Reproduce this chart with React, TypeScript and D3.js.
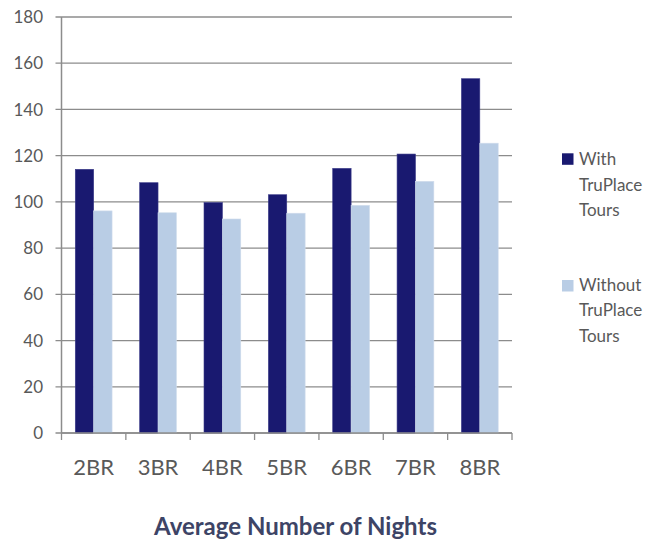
import React from "react";
import * as d3 from "d3";

const categories = ["2BR", "3BR", "4BR", "5BR", "6BR", "7BR", "8BR"];
const withTours = [114.1, 108.3, 99.7, 103.1, 114.5, 120.7, 153.3];
const withoutTours = [96.1, 95.3, 92.6, 95.1, 98.5, 108.9, 125.4];
const yTicks = [0, 20, 40, 60, 80, 100, 120, 140, 160, 180];
const seriesNames = [["With", "TruPlace", "Tours"], ["Without", "TruPlace", "Tours"]];
const seriesColors = ["#191970", "#b9cde5"];
const title = "Average Number of Nights";

const W = 657, H = 541;
const left = 61.5, right = 512, top = 17, bottom = 433;
const font = "Lato, 'Open Sans', sans-serif";

export default function App() {
  const x = d3.scaleBand<string>().domain(categories).range([left, right]).paddingInner(0).paddingOuter(0);
  const y = d3.scaleLinear().domain([0, 180]).range([bottom, top]);
  const bw = x.bandwidth() / 3.5;
  const series = [withTours, withoutTours];
  const grid = "#8c8c8c";
  return (
    <>
      <style>{`body{margin:0}`}</style>
      <svg width={W} height={H} style={{ display: "block", fontFamily: font }}>
        <rect width={W} height={H} fill="#fff" />
        {yTicks.map((t) => (
          <g key={t}>
            <line x1={left - 6} x2={right} y1={y(t)} y2={y(t)} stroke={grid} strokeWidth={1.3} />
            <text x={43} y={y(t)} dy="0.36em" textAnchor="end" fontSize={17} fill="#595959">{t}</text>
          </g>
        ))}
        {categories.map((c, i) =>
          series.map((s, k) => (
            <rect
              key={c + k}
              x={(x(c) as number) + bw * 0.75 + k * bw}
              y={y(s[i])}
              width={bw}
              height={bottom - y(s[i])}
              fill={seriesColors[k]}
              stroke={k === 0 ? "#3a3a88" : "#d0dcec"}
              strokeWidth={0.6}
            />
          ))
        )}
        <line x1={left} x2={left} y1={top} y2={bottom} stroke={grid} strokeWidth={1.5} />
        <line x1={left} x2={right} y1={bottom} y2={bottom} stroke={grid} strokeWidth={1.5} />
        {[...categories.map((c) => x(c) as number), right].map((v, i) => (
          <line key={i} x1={v} x2={v} y1={bottom} y2={bottom + 7} stroke={grid} strokeWidth={1.3} />
        ))}
        {categories.map((c) => (
          <text key={c} x={(x(c) as number) + x.bandwidth() / 2} y={475} textAnchor="middle" fontSize={22} fill="#595959">{c}</text>
        ))}
        {seriesNames.map((lines, k) => (
          <g key={k}>
            <rect x={562} y={k === 0 ? 153.3 : 280} width={11.5} height={11.5} fill={seriesColors[k]} />
            {lines.map((ln, j) => (
              <text key={j} x={579} y={(k === 0 ? 165 : 290.5) + j * 25.5} fontSize={17} fill="#595959">{ln}</text>
            ))}
          </g>
        ))}
        <text x={295.5} y={535} textAnchor="middle" fontSize={24} fontWeight="bold" fill="#3d4466">{title}</text>
      </svg>
    </>
  );
}
